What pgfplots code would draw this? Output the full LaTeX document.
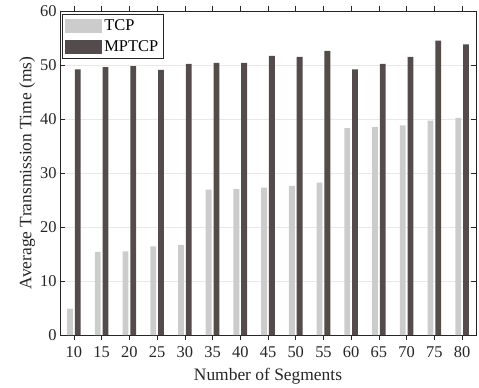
\documentclass[border=0pt]{standalone}
\usepackage{fontspec}
\setmainfont{Liberation Serif}
\usepackage{pgfplots}
\pgfplotsset{compat=1.18}
\definecolor{tcpc}{RGB}{204,204,204}
\definecolor{mpc}{RGB}{83,76,74}
\definecolor{axc}{RGB}{38,38,38}
\definecolor{gridc}{RGB}{232,232,232}
\begin{document}
\begin{tikzpicture}
\begin{axis}[
  scale only axis,
  width=416bp, height=324bp,
  xmin=-0.5, xmax=14.5,
  ymin=0, ymax=60,
  ytick={0,10,20,30,40,50,60},
  yticklabels={0,10,20,30,40,50,60},
  xtick={0,...,14},
  xticklabels={10,15,20,25,30,35,40,45,50,55,60,65,70,75,80},
  tick align=inside,
  major tick length=5bp,
  tick style={axc, line width=0.5bp},
  axis line style={axc, line width=0.8bp},
  ymajorgrids,
  grid style={gridc, line width=0.6bp},
  /pgf/number format/assume math mode=true,
  tick label style={font=\rmfamily\fontsize{16.5}{18}\selectfont, text=axc},
  xlabel={Number of Segments},
  ylabel={Average Transmission Time (ms)},
  label style={font=\rmfamily\fontsize{17.5}{20}\selectfont, text=axc},
  xlabel style={yshift=-4bp},
  ylabel style={yshift=-2bp},
  xticklabel style={yshift=-3bp},
  ybar, bar width=0.21,
  legend style={at={(0.005,0.99)}, anchor=north west, draw=axc, line width=0.6bp,
     font=\rmfamily\fontsize{16.5}{18}\selectfont, inner xsep=3bp, inner ysep=3.5bp,
     row sep=4bp, cells={anchor=west}},
  legend image code/.code={\fill[#1] (0bp,-7bp) rectangle (37bp,7bp);},
  legend cell align=left,
]
\addplot[fill=tcpc, draw=none, bar shift=-0.14] coordinates {
 (0,4.9) (1,15.4) (2,15.5) (3,16.4) (4,16.7) (5,26.9) (6,27.0) (7,27.3)
 (8,27.6) (9,28.2) (10,38.3) (11,38.5) (12,38.8) (13,39.7) (14,40.2)};
\addplot[fill=mpc, draw=none, bar shift=0.14] coordinates {
 (0,49.2) (1,49.6) (2,49.8) (3,49.1) (4,50.2) (5,50.4) (6,50.4) (7,51.7)
 (8,51.5) (9,52.6) (10,49.2) (11,50.2) (12,51.5) (13,54.5) (14,53.8)};
\legend{TCP,MPTCP}
\end{axis}
\pgfresetboundingbox
\path (current axis.south west) ++(-60bp,-53bp);
\path (current axis.north east) ++(3bp,11bp);
\end{tikzpicture}
\end{document}
